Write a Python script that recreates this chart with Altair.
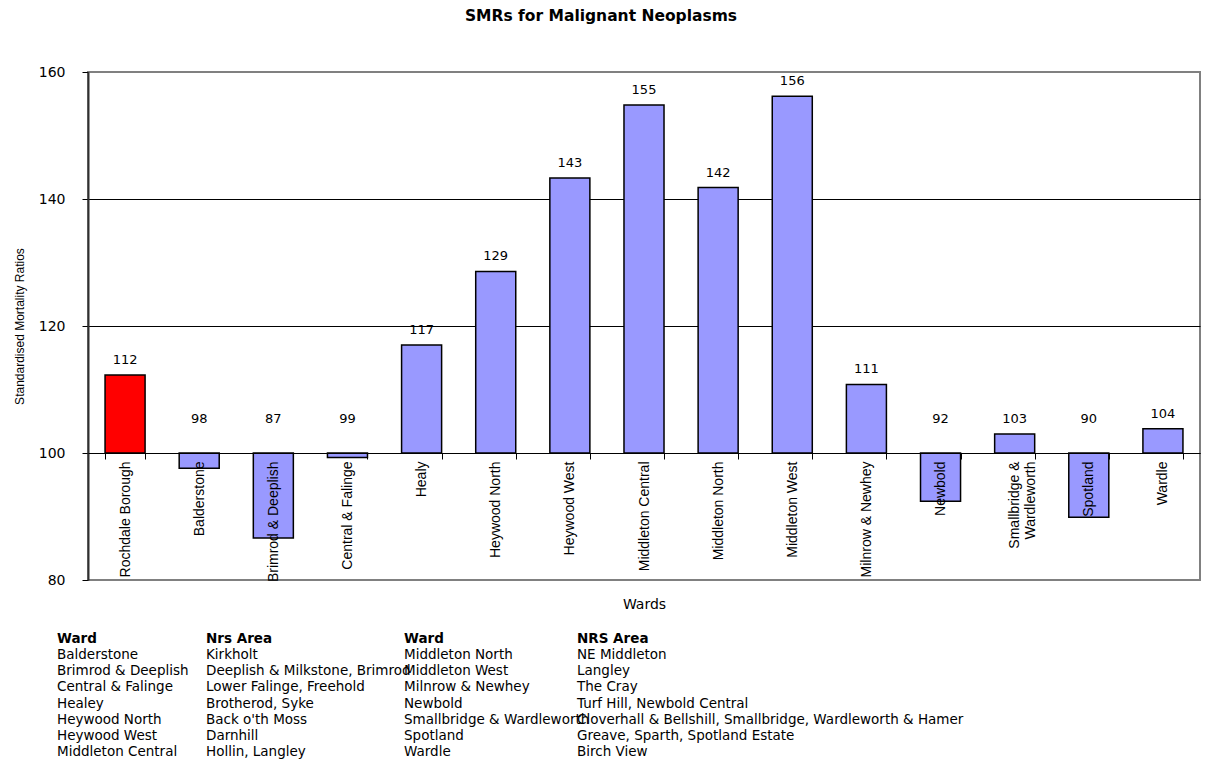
import altair as alt
import pandas as pd

# ---- data ----
wards = ["Rochdale Borough", "Balderstone", "Brimrod & Deeplish", "Central & Falinge",
         "Healy", "Heywood North", "Heywood West", "Middleton Central", "Middleton North",
         "Middleton West", "Milnrow & Newhey", "Newbold", "Smallbridge & Wardleworth",
         "Spotland", "Wardle"]
smr = [112.3, 97.6, 86.6, 99.3, 117.0, 128.6, 143.3, 154.8, 141.8, 156.2,
       110.8, 92.4, 103.0, 89.9, 103.8]
groups = ["Borough"] + ["Ward"] * 14
baseline = 100

legend_headers = ["Ward", "Nrs Area", "Ward", "NRS Area"]
ward_col1 = ["Balderstone", "Brimrod & Deeplish", "Central & Falinge", "Healey",
             "Heywood North", "Heywood West", "Middleton Central"]
area_col2 = ["Kirkholt", "Deeplish & Milkstone, Brimrod", "Lower Falinge, Freehold",
             "Brotherod, Syke", "Back o'th Moss", "Darnhill", "Hollin, Langley"]
ward_col3 = ["Middleton North", "Middleton West", "Milnrow & Newhey", "Newbold",
             "Smallbridge & Wardleworth", "Spotland", "Wardle"]
area_col4 = ["NE Middleton", "Langley", "The Cray", "Turf Hill, Newbold Central",
             "Cloverhall & Bellshill, Smallbridge, Wardleworth & Hamer",
             "Greave, Sparth, Spotland Estate", "Birch View"]

df = pd.DataFrame({"ward": wards, "smr": smr, "group": groups})

rows = []
for c, (h, items) in enumerate(zip(legend_headers, [ward_col1, area_col2, ward_col3, area_col4])):
    rows.append({"col": c, "row": 0, "text": h, "bold": 1})
    for r, t in enumerate(items):
        rows.append({"col": c, "row": r + 1, "text": t, "bold": 0})
leg_df = pd.DataFrame(rows)

# ---- main chart ----
W, H = 1112, 508
x = alt.X("ward:N", sort=wards,
          scale=alt.Scale(paddingInner=0.46, paddingOuter=0.23),
          axis=alt.Axis(offset=-127, tickBand="extent", tickSize=6, tickColor="black",
                        domainColor="black", domainWidth=1, zindex=1,
                        labelAngle=270, labelFont="Liberation Sans", labelFontSize=14,
                        labelColor="black", labelPadding=2, labelLimit=300,
                        labelExpr="datum.label == 'Smallbridge & Wardleworth' ? ['Smallbridge &', 'Wardleworth'] : datum.label",
                        labelLineHeight=16,
                        title="Wards", titleFont="DejaVu Sans", titleFontSize=14,
                        titleFontWeight="normal", titleColor="black", titlePadding=16))
y = alt.Y("smr:Q", scale=alt.Scale(domain=[80, 160], nice=False, zero=False),
          axis=alt.Axis(values=[80, 100, 120, 140, 160], tickSize=6, tickColor="black",
                        domainColor="#303030", domainWidth=2,
                        labelFont="DejaVu Sans", labelFontSize=14, labelColor="black",
                        labelPadding=17,
                        grid=True,
                        gridColor=alt.condition("datum.value == 80 || datum.value == 160",
                                                alt.value("#808080"), alt.value("black")),
                        title="Standardised Mortality Ratios", titleFont="Liberation Sans",
                        titleFontSize=12, titleFontWeight="normal", titleColor="black",
                        titlePadding=12))

base = alt.Chart(df)
bars = base.mark_bar(stroke="black", strokeWidth=1.5).encode(
    x=x, y=y, y2=alt.datum(baseline),
    color=alt.Color("group:N", scale=alt.Scale(domain=["Borough", "Ward"],
                                               range=["#ff0000", "#9999ff"]), legend=None))
pos_labels = base.transform_filter(f"datum.smr >= {baseline}").mark_text(
    dy=-15, font="DejaVu Sans", fontSize=13, color="black").encode(
    x=x, y=y, text=alt.Text("smr:Q", format=".0f"))
neg_labels = base.transform_filter(f"datum.smr < {baseline}").mark_text(
    dy=-34, font="DejaVu Sans", fontSize=13, color="black").encode(
    x=x, y=alt.datum(baseline), text=alt.Text("smr:Q", format=".0f"))

main = alt.layer(bars, pos_labels, neg_labels)

# ---- ward / area key below the chart ----
lx = alt.X("col:Q", scale=alt.Scale(domain=[0, 1, 2, 3], range=[-31, 118, 316, 489]), axis=None)
ly = alt.Y("row:Q", scale=alt.Scale(domain=[0, 7], range=[567, 680]), axis=None)
leg_base = alt.Chart(leg_df)
leg_head = leg_base.transform_filter("datum.bold == 1").mark_text(
    align="left", baseline="middle", font="DejaVu Sans", fontSize=13.5,
    fontWeight="bold", color="black").encode(x=lx, y=ly, text="text:N")
leg_body = leg_base.transform_filter("datum.bold == 0").mark_text(
    align="left", baseline="middle", font="DejaVu Sans", fontSize=13.5,
    color="black").encode(x=lx, y=ly, text="text:N")

chart = alt.layer(main, leg_head, leg_body).resolve_scale(
    x="independent", y="independent"
).properties(
    width=W, height=H,
    padding={"left": 5, "top": 0, "right": 5, "bottom": 5},
    title=alt.TitleParams("SMRs for Malignant Neoplasms", font="DejaVu Sans",
                          fontSize=15.5, fontWeight="bold", color="black",
                          anchor="middle", frame="group", dx=-43, offset=41)
).configure_view(stroke="#808080", strokeWidth=2)

chart.save("out.html", embed_options={"renderer": "svg", "actions": False})
